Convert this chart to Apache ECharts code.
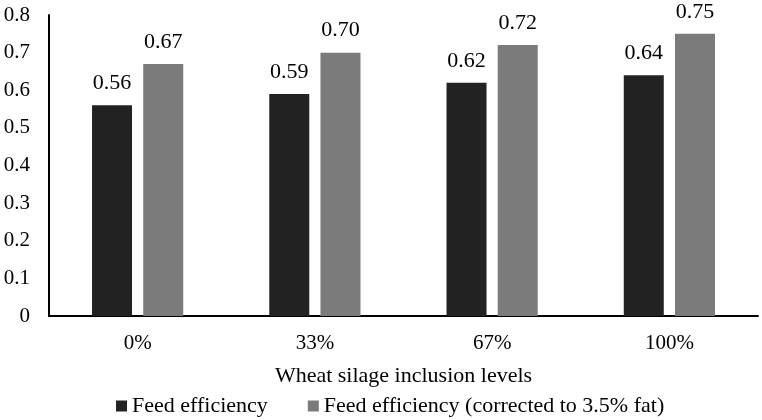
<!DOCTYPE html>
<html>
<head>
<meta charset="utf-8">
<script src="https://cdn.jsdelivr.net/npm/echarts@6/dist/echarts.min.js"></script>
<style>
  html, body { margin: 0; padding: 0; background: #fff; }
  #chart { width: 762px; height: 420px; }
</style>
</head>
<body>
<div id="chart"></div>
<script>
// data
var categories = ['0%', '33%', '67%', '100%']
var feedEfficiency = [0.56, 0.59, 0.62, 0.64]
var feedEfficiencyCorrected = [0.67, 0.70, 0.72, 0.75]
var seriesNames = ['Feed efficiency', 'Feed efficiency (corrected to 3.5% fat)']

var font = 'Liberation Serif'
var chart = echarts.init(document.getElementById('chart'))

var labelStyle = {
  show: true,
  position: 'top',
  distance: 11,
  fontFamily: font,
  fontSize: 22,
  color: '#000',
  formatter: function (p) { return p.value.toFixed(2) }
}

chart.setOption({
  animation: false,
  grid: {
    left: 49,
    right: 4,
    top: 15,
    bottom: 104
  },
  legend: {
    data: seriesNames,
    top: 390,
    left: 111,
    itemWidth: 11,
    itemHeight: 11,
    itemGap: 40,
    icon: 'rect',
    textStyle: { fontFamily: font, fontSize: 22, color: '#000' }
  },
  xAxis: {
    type: 'category',
    data: categories,
    name: 'Wheat silage inclusion levels',
    nameLocation: 'middle',
    nameGap: 49,
    nameTextStyle: { fontFamily: font, fontSize: 22, color: '#000' },
    axisLine: { lineStyle: { color: '#000', width: 2 } },
    axisTick: { show: false },
    axisLabel: { fontFamily: font, fontSize: 21, color: '#000', margin: 17 }
  },
  yAxis: {
    type: 'value',
    min: 0,
    max: 0.8,
    interval: 0.1,
    axisLine: { show: true, lineStyle: { color: '#000', width: 2 } },
    axisTick: { show: false },
    splitLine: { show: false },
    axisLabel: {
      fontFamily: font,
      fontSize: 21,
      color: '#000',
      margin: 19,
      formatter: function (v) { return v === 0 ? '0' : v.toFixed(1) }
    }
  },
  series: [
    {
      name: seriesNames[0],
      type: 'bar',
      data: feedEfficiency,
      barWidth: 40,
      barGap: '28%',
      itemStyle: { color: '#222222' },
      label: labelStyle
    },
    {
      name: seriesNames[1],
      type: 'bar',
      data: feedEfficiencyCorrected,
      barWidth: 40,
      itemStyle: { color: '#7b7b7b' },
      label: labelStyle
    }
  ]
})
</script>
</body>
</html>
